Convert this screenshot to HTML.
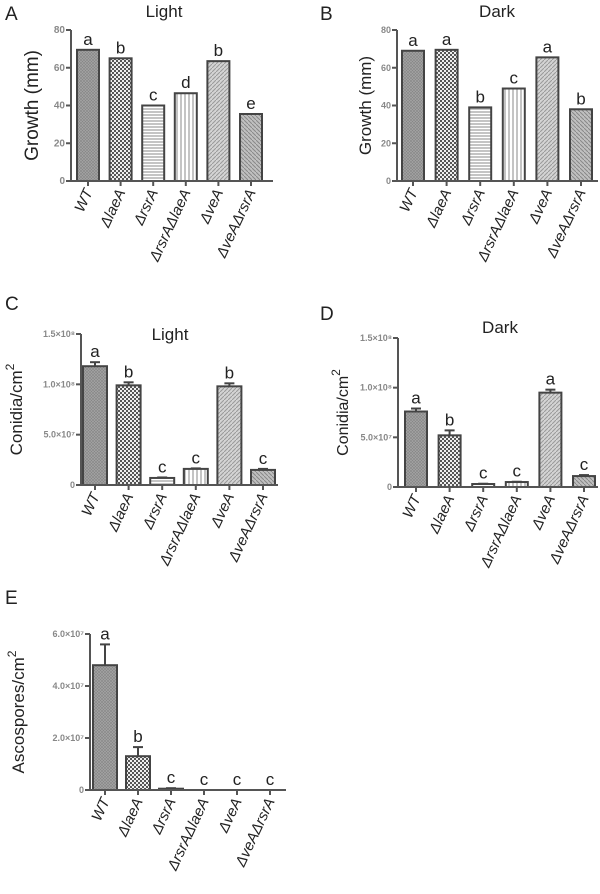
<!DOCTYPE html>
<html><head><meta charset="utf-8">
<style>
html,body{margin:0;padding:0;background:#fff;}
svg{display:block;font-family:"Liberation Sans",sans-serif;}
</style></head>
<body>
<svg id="fig" width="600" height="894" viewBox="0 0 600 894">
<defs>
<pattern id="pWT" width="3" height="3" patternUnits="userSpaceOnUse"><rect width="3" height="3" fill="#a4a4a4"/><path d="M0,3 L3,0 M0,0 L3,3" stroke="#858585" stroke-width="0.6"/></pattern>
<pattern id="pLae" width="4" height="4" patternUnits="userSpaceOnUse"><rect width="4" height="4" fill="#eee"/><rect width="2" height="2" fill="#555"/><rect x="2" y="2" width="2" height="2" fill="#555"/></pattern>
<pattern id="pRsr" width="4" height="3" patternUnits="userSpaceOnUse"><rect width="4" height="3" fill="#fff"/><line x1="0" y1="1" x2="4" y2="1" stroke="#888" stroke-width="1"/></pattern>
<pattern id="pRL" width="4" height="4" patternUnits="userSpaceOnUse"><rect width="4" height="4" fill="#fff"/><line x1="1" y1="0" x2="1" y2="4" stroke="#888" stroke-width="1"/></pattern>
<pattern id="pVe" width="4" height="4" patternUnits="userSpaceOnUse"><rect width="4" height="4" fill="#d4d4d4"/><path d="M0,4 L4,0" stroke="#999" stroke-width="1"/></pattern>
<pattern id="pVR" width="4" height="4" patternUnits="userSpaceOnUse"><rect width="4" height="4" fill="#c0c0c0"/><path d="M0,0 L4,4" stroke="#888" stroke-width="1"/></pattern>
</defs>
</svg>
<script>
const categories = ["WT","ΔlaeA","ΔrsrA","ΔrsrAΔlaeA","ΔveA","ΔveAΔrsrA"];
const growthLight = [69.5,65,40,46.5,63.5,35.5];
const growthLightLetters = ["a","b","c","d","b","e"];
const growthDark = [69,69.5,39,49,65.5,38];
const growthDarkLetters = ["a","a","b","c","a","b"];
const growthTicks = [0,20,40,60,80];
const growthTickLabels = ["0","20","40","60","80"];
const conidiaLight = [1.18e8,0.99e8,0.07e8,0.16e8,0.98e8,0.15e8];
const conidiaLightErr = [0.04e8,0.03e8,0.005e8,0.005e8,0.03e8,0.01e8];
const conidiaLightLetters = ["a","b","c","c","b","c"];
const conidiaDark = [0.76e8,0.52e8,0.03e8,0.05e8,0.95e8,0.11e8];
const conidiaDarkErr = [0.03e8,0.05e8,0.003e8,0.003e8,0.03e8,0.01e8];
const conidiaDarkLetters = ["a","b","c","c","a","c"];
const conidiaTicks = [0,5e7,1e8,1.5e8];
const conidiaTickLabels = ["0","5.0×10⁷","1.0×10⁸","1.5×10⁸"];
const ascospores = [4.8e7,1.3e7,0.05e7,0,0,0];
const ascosporesErr = [0.8e7,0.35e7,0.02e7,0,0,0];
const ascosporesLetters = ["a","b","c","c","c","c"];
const ascoTicks = [0,2e7,4e7,6e7];
const ascoTickLabels = ["0","2.0×10⁷","4.0×10⁷","6.0×10⁷"];
const fills = ["url(#pWT)","url(#pLae)","url(#pRsr)","url(#pRL)","url(#pVe)","url(#pVR)"];
const NS="http://www.w3.org/2000/svg";
const svg=document.getElementById('fig');
function mk(tag,attrs,parent,text){const e=document.createElementNS(NS,tag);for(const k in attrs)e.setAttribute(k,attrs[k]);if(text!==undefined)e.textContent=text;(parent||svg).appendChild(e);return e;}

function panel(o){
  const g=mk('g',{});
  
  
  const y=v=>o.y0-(v/o.max)*(o.y0-o.yTop);
  const x=i=>o.x0+i*o.step;
  const L=mk('text',{x:o.lx,y:o.ly,'font-size':19,fill:'#222'},g,o.letter);
  
  if(o.title){const t=mk('text',{x:o.tx,y:o.ty,'font-size':17,'text-anchor':'middle',fill:'#222'},g,o.title);
    }
  const yt=mk('text',{x:0,y:0,'font-size':o.ylfs||19,'text-anchor':'middle',fill:'#222',transform:`translate(${o.ylx},${(o.y0+o.yTop)/2}) rotate(-90)`},g);
  
  if(o.sup){yt.textContent=o.ytitle;mk('tspan',{'font-size':12,dy:-8},yt,'2');}else yt.textContent=o.ytitle;
  o.vals.forEach((v,i)=>{
    const cx=x(i);
    if(v>0){const r=mk('rect',{x:cx-o.bw/2,y:y(v),width:o.bw,height:o.y0-y(v),fill:fills[i],stroke:'#444','stroke-width':2},g);
      }
    let top=y(v);
    if(o.err&&o.err[i]>0){const ye=y(v+o.err[i]);mk('line',{x1:cx,x2:cx,y1:y(v),y2:ye,stroke:'#444','stroke-width':2},g);
      mk('line',{x1:cx-5,x2:cx+5,y1:ye,y2:ye,stroke:'#444','stroke-width':2},g);top=ye;}
    const lt=mk('text',{x:cx,y:top-5,'font-size':17,'text-anchor':'middle',fill:'#222'},g,o.letters[i]);
    
    mk('line',{x1:cx,x2:cx,y1:o.y0,y2:o.y0+5,stroke:'#555','stroke-width':2},g);
    const cl=mk('text',{x:0,y:0,'font-size':15,'font-style':'italic','text-anchor':'end',fill:'#222',transform:`translate(${cx+5},${o.y0+11}) rotate(-65)`},g,categories[i]);
    
  });
  const ya=mk('line',{x1:o.ax,x2:o.ax,y1:o.yTop,y2:o.y0,stroke:'#555','stroke-width':2},g);
  
  const xa=mk('line',{x1:o.ax,x2:o.axEnd,y1:o.y0,y2:o.y0,stroke:'#555','stroke-width':2},g);
  
  o.ticks.forEach((t,i)=>{mk('line',{x1:o.ax-5,x2:o.ax,y1:y(t),y2:y(t),stroke:'#555','stroke-width':2},g);
    const tl=mk('text',{x:o.ax-6,y:y(t)+3,'font-size':o.tfs||10,'font-weight':'bold','text-anchor':'end',fill:'#888'},g,o.tickLabels[i]);
    });
}
panel({name:'panel-a-growth-light',letter:'A',lx:5,ly:20,title:'Light',tx:164,ty:17,ytitle:'Growth (mm)',ylx:38,
  vals:growthLight,letters:growthLightLetters,max:80,y0:181,yTop:30,x0:88,step:32.6,bw:22,ax:71,axEnd:273,ticks:growthTicks,tickLabels:growthTickLabels});
panel({name:'panel-b-growth-dark',letter:'B',lx:320,ly:20,title:'Dark',tx:497,ty:17,ytitle:'Growth (mm)',ylx:371,ylfs:17,
  vals:growthDark,letters:growthDarkLetters,max:80,y0:181,yTop:30,x0:413,step:33.6,bw:22,ax:397,axEnd:598,ticks:growthTicks,tickLabels:growthTickLabels,tfs:9});
panel({name:'panel-c-conidia-light',letter:'C',lx:5,ly:310,title:'Light',tx:170,ty:340,ytitle:'Conidia/cm',sup:true,ylx:22,ylfs:17,
  vals:conidiaLight,letters:conidiaLightLetters,err:conidiaLightErr,max:1.5e8,y0:485,yTop:334,x0:95,step:33.6,bw:24,ax:81,axEnd:278,ticks:conidiaTicks,tickLabels:conidiaTickLabels,tfs:9});
panel({name:'panel-d-conidia-dark',letter:'D',lx:320,ly:320,title:'Dark',tx:500,ty:333,ytitle:'Conidia/cm',sup:true,ylx:348,ylfs:16,
  vals:conidiaDark,letters:conidiaDarkLetters,err:conidiaDarkErr,max:1.5e8,y0:487,yTop:338,x0:416,step:33.6,bw:22,ax:398,axEnd:598,ticks:conidiaTicks,tickLabels:conidiaTickLabels,tfs:9});
panel({name:'panel-e-ascospores',letter:'E',lx:5,ly:604,title:'',ytitle:'Ascospores/cm',sup:true,ylx:24,ylfs:17,
  vals:ascospores,letters:ascosporesLetters,err:ascosporesErr,max:6e7,y0:790,yTop:634,x0:105,step:33,bw:24,ax:90,axEnd:286,ticks:ascoTicks,tickLabels:ascoTickLabels,tfs:9});
</script>
</body></html>
